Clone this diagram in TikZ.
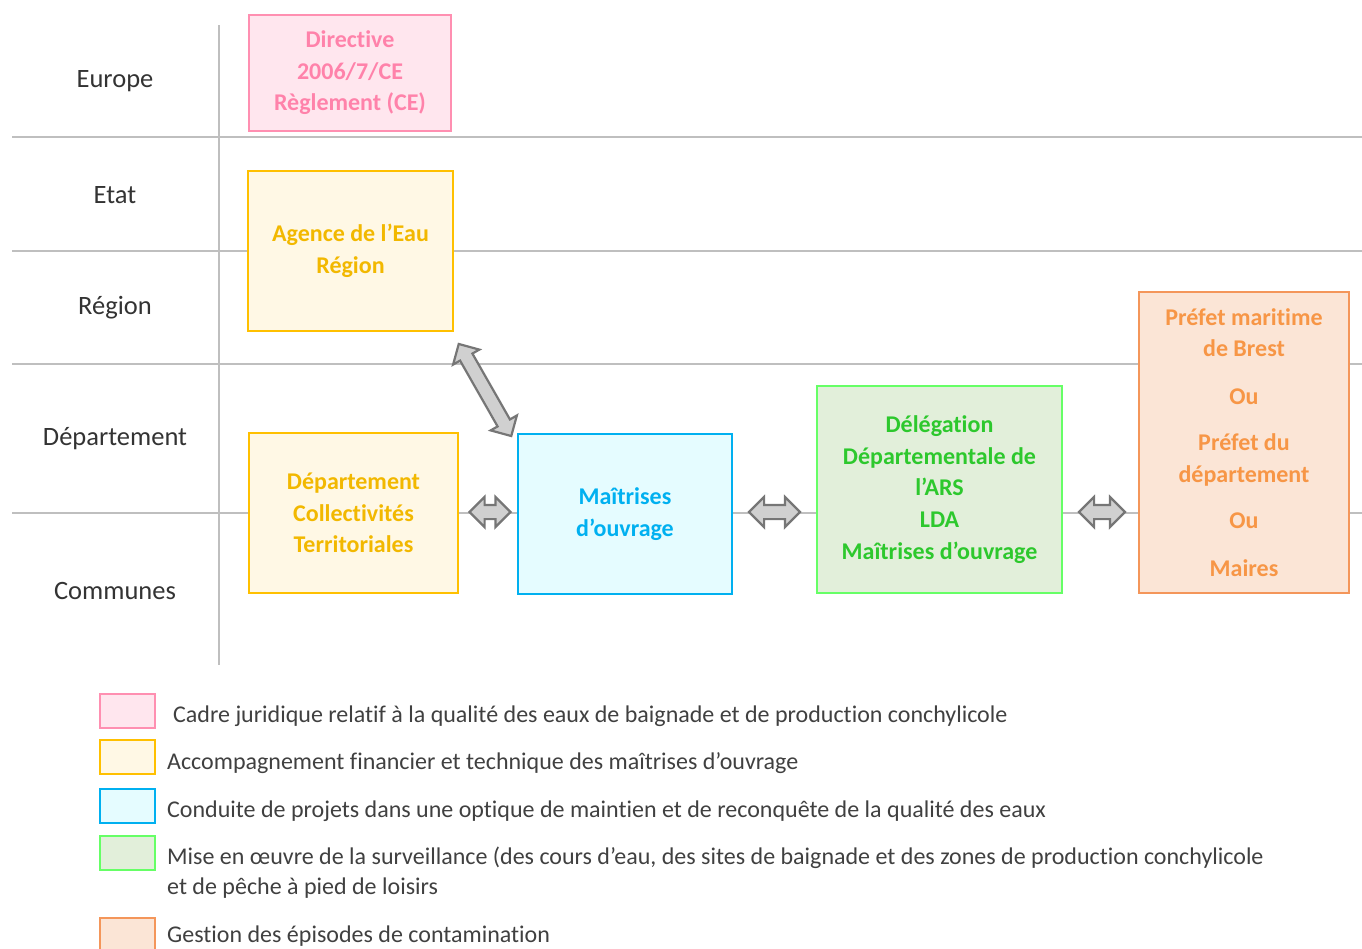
\documentclass[tikz,border=0pt]{standalone}
\usepackage{fontspec}
\setmainfont{Carlito}[Ligatures={NoCommon,NoContextual,NoRequired},RawFeature={-liga;-clig;-calt;-rlig;-dlig}]
\usetikzlibrary{shapes.arrows,calc}

\definecolor{pinkD}{RGB}{255,143,177}
\definecolor{pinkF}{RGB}{255,230,238}
\definecolor{pinkT}{RGB}{255,130,170}
\definecolor{yelD}{RGB}{255,192,0}
\definecolor{yelF}{RGB}{255,248,229}
\definecolor{yelT}{RGB}{242,184,0}
\definecolor{bluD}{RGB}{0,176,240}
\definecolor{bluF}{RGB}{229,252,255}
\definecolor{bluT}{RGB}{0,176,240}
\definecolor{grnD}{RGB}{102,255,102}
\definecolor{grnF}{RGB}{226,239,218}
\definecolor{grnT}{RGB}{45,200,45}
\definecolor{orgD}{RGB}{244,150,90}
\definecolor{orgF}{RGB}{251,229,214}
\definecolor{orgT}{RGB}{247,150,70}
\definecolor{rule}{RGB}{191,191,191}
\definecolor{arrowF}{RGB}{208,208,208}
\definecolor{arrowD}{RGB}{118,118,118}
\definecolor{txt}{RGB}{64,64,64}

\tikzset{
  box/.style n args={3}{draw=#1, fill=#2, text=#3, line width=2pt,
    anchor=north west, inner sep=0pt, align=center,
    font=\bfseries\fontsize{24}{31.5}\selectfont},
  rowlabel/.style={text=txt!80!black, font=\fontsize{26.5}{30}\selectfont, inner sep=0pt},
  legbox/.style n args={2}{draw=#1, fill=#2, line width=2pt, anchor=north west,
    minimum width=55, minimum height=34, inner sep=0pt},
  legtext/.style={text=txt, anchor=base west, inner sep=0pt, align=left,
    font=\fontsize{24}{31}\selectfont},
  sep/.style={draw=rule, line width=1.5pt},
  blockarrow/.style={double arrow, draw=arrowD, fill=arrowF, line width=2.2pt,
    double arrow head extend=8pt, inner sep=6pt, text height=0pt, text depth=0pt,
    text width=0pt},
}

\begin{document}
\begin{tikzpicture}[x=1pt,y=-1pt]
\useasboundingbox (0,0) rectangle (1362,948);

% level separators
\coordinate (vtop) at (219,25);
\coordinate (vbot) at (219,665);
\draw[sep] (vtop) -- (vbot);
\foreach \yy in {137,251,364,513}{
  \draw[sep] (12,\yy) -- (1362,\yy);
}

% level names
\node[rowlabel] (lEurope) at (115,81) {Europe};
\node[rowlabel] (lEtat) at (115,195) {Etat};
\node[rowlabel] (lRegion) at (115,308) {Région};
\node[rowlabel] (lDept) at (115,439) {Département};
\node[rowlabel] (lCommunes) at (115,591) {Communes};

% actors
\node[box={pinkD}{pinkF}{pinkT}, minimum width=202, minimum height=116]
  (dir) at (248,14) {Directive\\2006/7/CE\\Règlement (CE)};
\node[box={yelD}{yelF}{yelT}, minimum width=205, minimum height=160]
  (agence) at (247,170) {Agence de l’Eau\\Région};
\node[box={yelD}{yelF}{yelT}, minimum width=209, minimum height=160]
  (dep) at (248,432) {Département\\Collectivités\\Territoriales};
\node[box={bluD}{bluF}{bluT}, minimum width=214, minimum height=160]
  (mo) at (517,433) {Maîtrises\\d’ouvrage};
\node[box={grnD}{grnF}{grnT}, minimum width=245, minimum height=207,
  font=\bfseries\fontsize{24}{31.7}\selectfont]
  (del) at (816,385) {Délégation\\Départementale de\\l’ARS\\LDA\\Maîtrises d’ouvrage};
\node[box={orgD}{orgF}{orgT}, minimum width=210, minimum height=301]
  (pref) at (1138,291) {Préfet maritime\\de Brest\\[16pt]Ou\\[15pt]Préfet du\\département\\[15pt]Ou\\[16pt]Maires};

% exchanges between actors, all on the communes/département boundary
\coordinate (axis) at (0,512);
\coordinate (m1) at ($(dep.east)!0.5!(mo.west)+(2,0)$);
\coordinate (m2) at ($(mo.east)!0.5!(del.west)$);
\coordinate (m3) at ($(del.east)!0.5!(pref.west)+(1.5,0)$);
\node[blockarrow, minimum height=106, rotate=-60.3] (a0) at (485,390) {};
\node[blockarrow, minimum height=41] (a1) at (m1 |- axis) {};
\node[blockarrow, minimum height=51] (a2) at (m2 |- axis) {};
\node[blockarrow, minimum height=46] (a3) at (m3 |- axis) {};

% legend
\node[legbox={pinkD}{pinkF}] (k1) at (99,693) {};
\node[legbox={yelD}{yelF}] (k2) at (99,739) {};
\node[legbox={bluD}{bluF}] (k3) at (99,788) {};
\node[legbox={grnD}{grnF}] (k4) at (99,835) {};
\node[legbox={orgD}{orgF}] (k5) at (99,917) {};

\node[legtext] (t1) at (173,722) {Cadre juridique relatif à la qualité des eaux de baignade et de production conchylicole};
\node[legtext] (t2) at (167,769) {Accompagnement financier et technique des maîtrises d’ouvrage};
\node[legtext] (t3) at (167,817) {Conduite de projets dans une optique de maintien et de reconquête de la qualité des eaux};
\node[legtext] (t4) at (167,864) {Mise en œuvre de la surveillance (des cours d’eau, des sites de baignade et des zones de production conchylicole};
\node[legtext] (t4b) at (167,894) {et de pêche à pied de loisirs};
\node[legtext] (t5) at (167,942) {Gestion des épisodes de contamination};
\end{tikzpicture}
\end{document}
